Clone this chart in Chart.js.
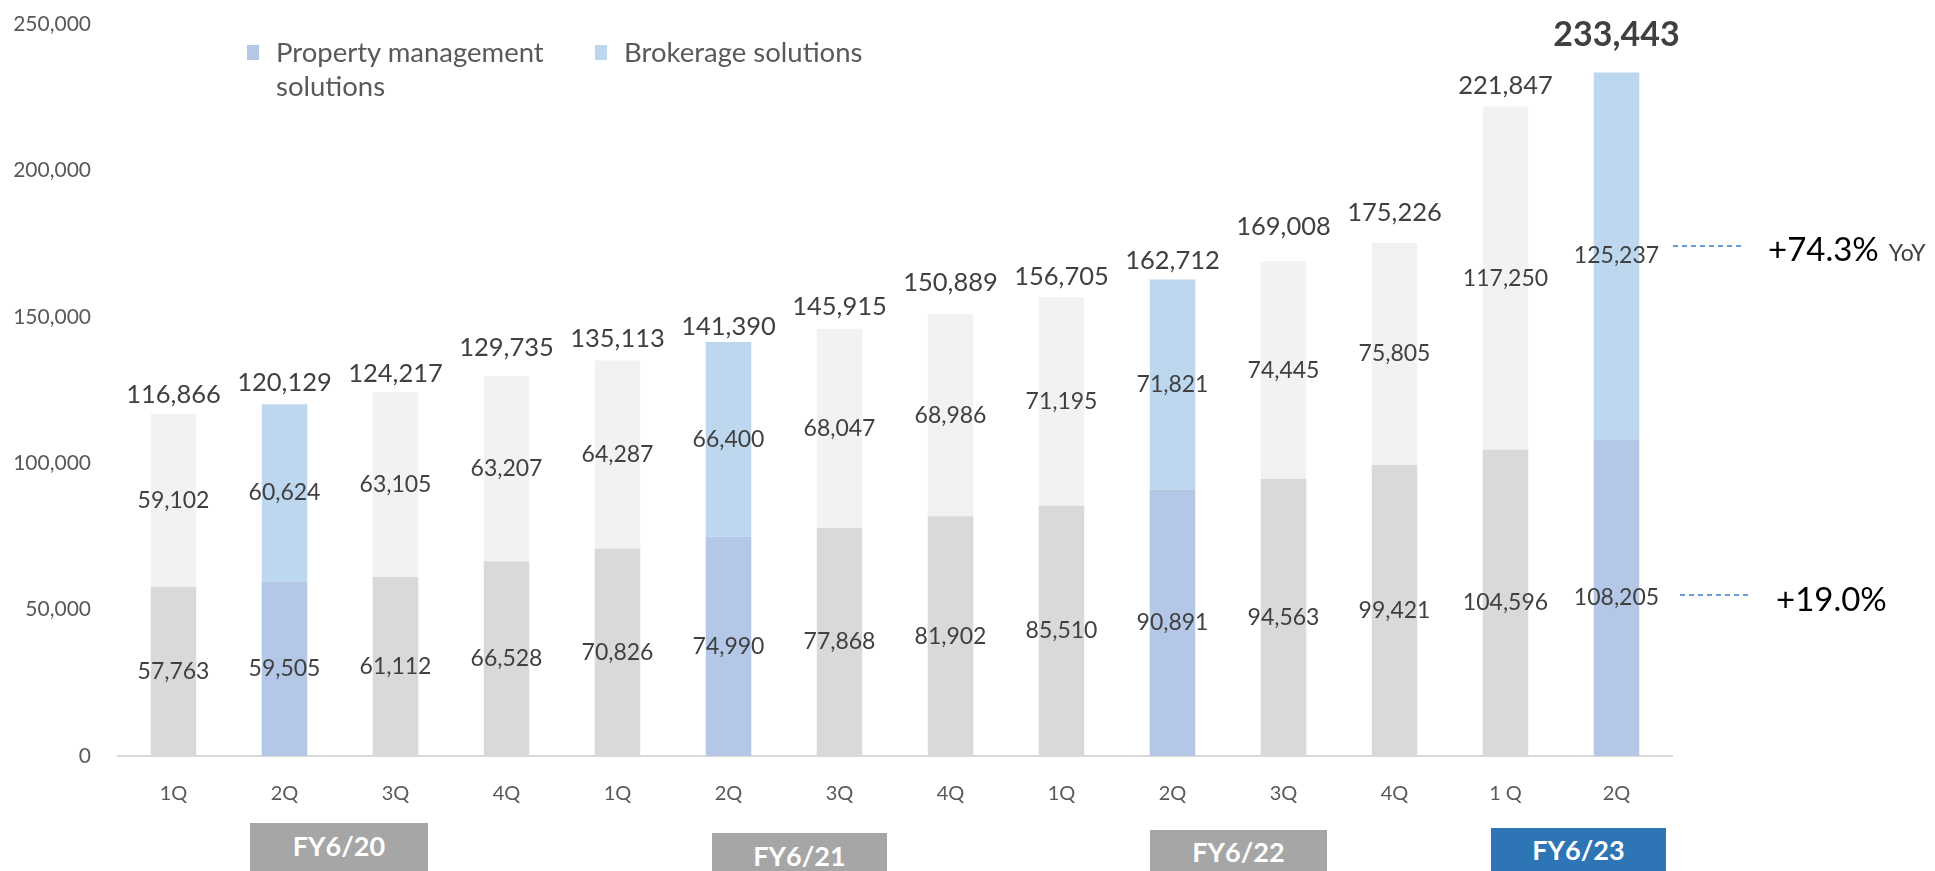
<!DOCTYPE html>
<html>
<head>
<meta charset="utf-8">
<script src="https://cdn.jsdelivr.net/npm/chart.js@4/dist/chart.umd.min.js"></script>
<style>
  body { margin: 0; background: #fff; font-family: Lato, "Open Sans", sans-serif; }
  #wrap { position: relative; width: 1935px; height: 871px; overflow: hidden; }
  #c { position: absolute; left: 0; top: 0; }
  .leg { position: absolute; font-size: 27.5px; color: #595959; line-height: 34px; }
  .leg i { position: absolute; left: -29px; top: 10px; width: 12px; height: 15px; }
  .fy { position: absolute; color: #fff; font-weight: bold; font-size: 27px; text-align: center; }
  .ann { position: absolute; font-size: 33px; color: #000; white-space: nowrap; line-height: 40px; }
  .ann small { font-size: 23px; color: #404040; margin-left: 10px; }
  .dash { position: absolute; width: 72px; height: 1.5px;
          background: repeating-linear-gradient(to right, #6a9bd8 0 5px, transparent 5px 9px); }
</style>
</head>
<body>
<div id="wrap">
  <canvas id="c" width="1935" height="871"></canvas>
  <div class="leg" style="left:276px;top:35px;"><i style="background:#b4c7e7"></i>Property management<br>solutions</div>
  <div class="leg" style="left:624px;top:35px;"><i style="background:#bdd7ee"></i>Brokerage solutions</div>
  <div class="fy" style="left:250px;top:823px;width:178px;height:48px;line-height:46px;background:#a6a6a6">FY6/20</div>
  <div class="fy" style="left:712px;top:833px;width:175px;height:48px;line-height:46px;background:#a6a6a6">FY6/21</div>
  <div class="fy" style="left:1150px;top:830px;width:177px;height:48px;line-height:44px;background:#a6a6a6">FY6/22</div>
  <div class="fy" style="left:1491px;top:828px;width:175px;height:48px;line-height:44px;background:#2e75b6">FY6/23</div>
  <div class="dash" style="left:1673px;top:245px;"></div>
  <div class="ann" style="left:1768px;top:228px;">+74.3%<small>YoY</small></div>
  <div class="dash" style="left:1680px;top:594px;"></div>
  <div class="ann" style="left:1776px;top:578px;">+19.0%</div>
</div>
<script>
var quarters = ['1Q','2Q','3Q','4Q','1Q','2Q','3Q','4Q','1Q','2Q','3Q','4Q','1 Q','2Q'];
var propertyMgmt = [57763,59505,61112,66528,70826,74990,77868,81902,85510,90891,94563,99421,104596,108205];
var brokerage = [59102,60624,63105,63207,64287,66400,68047,68986,71195,71821,74445,75805,117250,125237];
var totals = [116866,120129,124217,129735,135113,141390,145915,150889,156705,162712,169008,175226,221847,233443];

// gap (px) between bar top and total label, labels were nudged by hand in the original
var totalGap = [19,21,19,28,22,15,22,31,20,19,34,30,21,37];

function isSecondQ(i){ return i % 4 === 1; }
function fmt(v){ return v.toLocaleString('en-US'); }

var barLabels = {
  id: 'barLabels',
  afterDatasetsDraw(chart){
    var ctx = chart.ctx;
    ctx.save();
    ctx.fillStyle = '#404040';
    ctx.textAlign = 'center';
    ctx.textBaseline = 'middle';
    ctx.font = '23px Lato';
    chart.data.datasets.forEach(function(ds, di){
      chart.getDatasetMeta(di).data.forEach(function(el, i){
        ctx.fillText(fmt(ds.data[i]), el.x, (el.y + el.base) / 2);
      });
    });
    var top = chart.getDatasetMeta(1).data;
    top.forEach(function(el, i){
      var last = i === totals.length - 1;
      ctx.font = last ? 'bold 34px Lato' : '25.5px Lato';
      ctx.fillText(fmt(totals[i]), el.x, el.y - totalGap[i]);
    });
    ctx.restore();
  }
};

new Chart(document.getElementById('c'), {
  type: 'bar',
  data: {
    labels: quarters,
    datasets: [{
      label: 'Property management solutions',
      data: propertyMgmt,
      backgroundColor: propertyMgmt.map(function(v, i){ return isSecondQ(i) ? '#b4c7e7' : '#d9d9d9'; }),
      barPercentage: 0.82,
      categoryPercentage: 0.5
    }, {
      label: 'Brokerage solutions',
      data: brokerage,
      backgroundColor: brokerage.map(function(v, i){ return isSecondQ(i) ? '#bdd7ee' : '#f2f2f2'; }),
      barPercentage: 0.82,
      categoryPercentage: 0.5
    }]
  },
  options: {
    responsive: false,
    animation: false,
    layout: { padding: { top: 24, right: 263, left: 0, bottom: 0 } },
    plugins: { legend: { display: false }, tooltip: { enabled: false } },
    scales: {
      x: {
        stacked: true,
        grid: { display: false, drawTicks: false },
        border: { color: '#d9d9d9', width: 2 },
        ticks: { color: '#595959', font: { family: 'Lato', size: 20 }, padding: 26 },
        afterFit: function(s){ s.height = 115; }
      },
      y: {
        stacked: true,
        min: 0, max: 250000,
        grid: { display: false, drawTicks: false },
        border: { display: false },
        ticks: { stepSize: 50000, color: '#595959', font: { family: 'Lato', size: 21 }, padding: 27,
                 callback: function(v){ return fmt(v); } },
        afterFit: function(s){ s.width = 118; s.paddingTop = 0; s.paddingBottom = 0; }
      }
    }
  },
  plugins: [barLabels]
});
</script>
</body>
</html>
